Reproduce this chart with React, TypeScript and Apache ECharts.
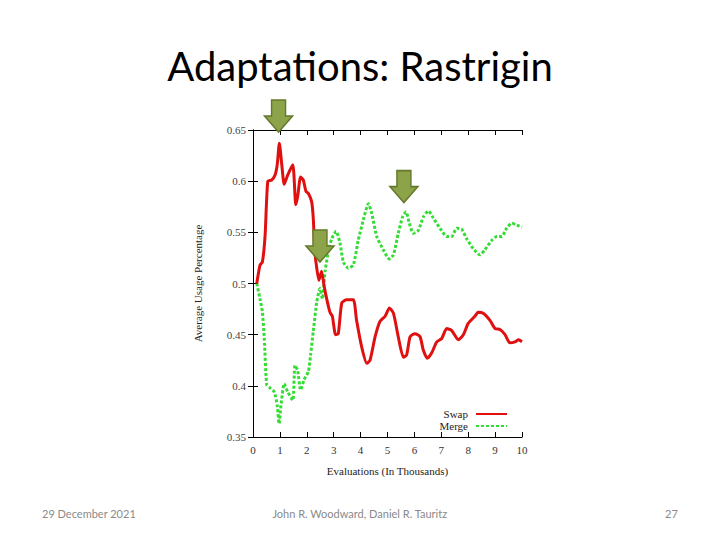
import React, { useEffect, useRef } from "react";
import * as echarts from "echarts";

const titleText = "Adaptations: Rastrigin";
const footerDate = "29 December 2021";
const footerAuthors = "John R. Woodward, Daniel R. Tauritz";
const footerPage = "27";

const xAxisName = "Evaluations (In Thousands)";
const yAxisName = "Average Usage Percentage";

const swapX = [0.14,0.26,0.35,0.45,0.55,0.69,0.82,0.90,0.98,1.07,1.16,1.29,1.48,1.59,1.66,1.77,1.87,1.97,2.06,2.18,2.24,2.30,2.37,2.45,2.55,2.64,2.74,2.86,2.95,3.07,3.17,3.30,3.48,3.73,3.85,4.04,4.23,4.35,4.54,4.72,4.91,5.07,5.22,5.40,5.59,5.71,5.84,6.02,6.21,6.33,6.48,6.64,6.83,7.01,7.20,7.39,7.63,7.82,8.00,8.25,8.37,8.56,8.81,9.00,9.18,9.37,9.55,9.74,9.87,10.0];
const swapY = [0.500,0.518,0.521,0.547,0.600,0.601,0.606,0.616,0.637,0.616,0.597,0.606,0.616,0.577,0.585,0.604,0.601,0.590,0.588,0.580,0.564,0.531,0.515,0.503,0.512,0.498,0.485,0.472,0.468,0.450,0.451,0.481,0.484,0.484,0.464,0.438,0.422,0.425,0.448,0.463,0.468,0.476,0.471,0.448,0.428,0.430,0.448,0.451,0.448,0.435,0.427,0.432,0.443,0.446,0.456,0.454,0.445,0.450,0.461,0.468,0.472,0.471,0.464,0.456,0.455,0.450,0.442,0.443,0.445,0.443];

const mergeX = [0.14,0.26,0.35,0.42,0.51,0.63,0.79,0.90,0.97,1.04,1.16,1.29,1.48,1.56,1.66,1.77,1.90,2.06,2.14,2.24,2.37,2.49,2.58,2.68,2.80,2.93,3.09,3.23,3.36,3.54,3.73,3.91,4.10,4.29,4.41,4.60,4.84,5.07,5.22,5.40,5.56,5.69,5.81,5.96,6.15,6.33,6.52,6.70,6.95,7.20,7.39,7.57,7.76,7.94,8.19,8.44,8.62,8.87,9.06,9.25,9.43,9.62,9.81,10.0];
const mergeY = [0.500,0.485,0.472,0.446,0.401,0.398,0.394,0.381,0.363,0.381,0.402,0.394,0.386,0.420,0.415,0.396,0.406,0.414,0.430,0.453,0.482,0.495,0.485,0.512,0.531,0.544,0.551,0.540,0.521,0.515,0.518,0.542,0.562,0.578,0.569,0.546,0.533,0.524,0.528,0.549,0.565,0.570,0.559,0.549,0.552,0.565,0.571,0.564,0.554,0.546,0.546,0.554,0.553,0.544,0.534,0.528,0.533,0.542,0.546,0.546,0.554,0.559,0.557,0.555];

// annotation arrows: tip positions in data coordinates
const arrowTips = [
  [0.95, 0.648],
  [2.49, 0.521],
  [5.61, 0.579],
];

const serif = "'Liberation Serif', 'DejaVu Serif', serif";
const sans = "Lato, 'Open Sans', sans-serif";

const arrowPath = "path://M7,0 L21,0 L21,16 L28,16 L14,32 L0,16 L7,16 Z";

export default function App() {
  const ref = useRef<HTMLDivElement>(null);
  useEffect(() => {
    if (!ref.current) return;
    const chart = echarts.init(ref.current, null, { renderer: "svg" });
    const axisCommon = {
      type: "value" as const,
      axisLine: { show: true, lineStyle: { color: "#000", width: 1 } },
      axisTick: { show: true, inside: true, length: 5, lineStyle: { color: "#000" } },
      splitLine: { show: false },
    };
    chart.setOption({
      animation: false,
      backgroundColor: "#fff",
      grid: { left: 253, top: 130, width: 269, height: 307, containLabel: false },
      xAxis: [
        {
          ...axisCommon,
          min: 0,
          max: 10,
          interval: 1,
          position: "bottom",
          name: xAxisName,
          nameLocation: "middle",
          nameGap: 28,
          nameTextStyle: { fontFamily: serif, fontSize: 11, color: "#222" },
          axisLabel: { fontFamily: serif, fontSize: 11, color: "#333", margin: 7 },
        },
        {
          ...axisCommon,
          min: 0,
          max: 10,
          interval: 1,
          position: "top",
          axisLabel: { show: false },
        },
      ],
      yAxis: [
        {
          ...axisCommon,
          min: 0.35,
          max: 0.65,
          interval: 0.05,
          position: "left",
          name: yAxisName,
          nameLocation: "middle",
          nameGap: 50,
          nameRotate: 90,
          nameTextStyle: { fontFamily: serif, fontSize: 11, color: "#222" },
          axisLabel: { fontFamily: serif, fontSize: 11, color: "#444", margin: 7 },
        },
        {
          ...axisCommon,
          min: 0.35,
          max: 0.65,
          interval: 0.05,
          position: "right",
          axisLabel: { show: false },
        },
      ],
      legend: {
        orient: "vertical",
        right: 212,
        top: 408,
        align: "right",
        itemWidth: 31,
        itemHeight: 8,
        itemGap: 0,
        padding: 0,
        itemStyle: { opacity: 0, borderWidth: 0 },
        textStyle: {
          fontFamily: serif,
          fontSize: 11,
          lineHeight: 12,
          color: "#222",
          padding: [0, 3, 0, 0],
        },
        data: ["Swap", "Merge"],
      },
      series: [
        {
          name: "Swap",
          type: "line",
          xAxisIndex: 0,
          yAxisIndex: 0,
          symbol: "none",
          smooth: 0.2,
          lineStyle: { color: "#e01010", width: 3 },
          itemStyle: { color: "#e01010" },
          data: swapX.map((x, i) => [x, swapY[i]]),
          z: 3,
        },
        {
          name: "Merge",
          type: "line",
          xAxisIndex: 0,
          yAxisIndex: 0,
          symbol: "none",
          smooth: 0.2,
          lineStyle: { color: "#33dd33", width: 3, type: [3, 2] },
          itemStyle: { color: "#33dd33" },
          data: mergeX.map((x, i) => [x, mergeY[i]]),
          z: 2,
          markPoint: {
            symbol: arrowPath,
            symbolSize: [28, 32],
            symbolOffset: [0, "-50%"],
            symbolKeepAspect: false,
            label: { show: false },
            itemStyle: { color: "#8ca34a", borderColor: "#65782a", borderWidth: 1.5 },
            z: 10,
            data: arrowTips.map((p) => ({ coord: p })),
          },
        },
      ],
      graphic: [
        {
          type: "text",
          left: "center",
          top: 46,
          style: { text: titleText, font: `40px ${sans}`, fill: "#000" },
        },
        {
          type: "text",
          left: 42,
          top: 508,
          style: { text: footerDate, font: `11px ${sans}`, fill: "#8a8a8a" },
        },
        {
          type: "text",
          left: "center",
          top: 508,
          style: { text: footerAuthors, font: `11px ${sans}`, fill: "#8a8a8a" },
        },
        {
          type: "text",
          left: 665,
          top: 508,
          style: { text: footerPage, font: `11px ${sans}`, fill: "#8a8a8a" },
        },
      ],
    });
    return () => chart.dispose();
  }, []);
  return (
    <div
      ref={ref}
      style={{ position: "fixed", left: 0, top: 0, width: 720, height: 540, background: "#fff" }}
    />
  );
}
